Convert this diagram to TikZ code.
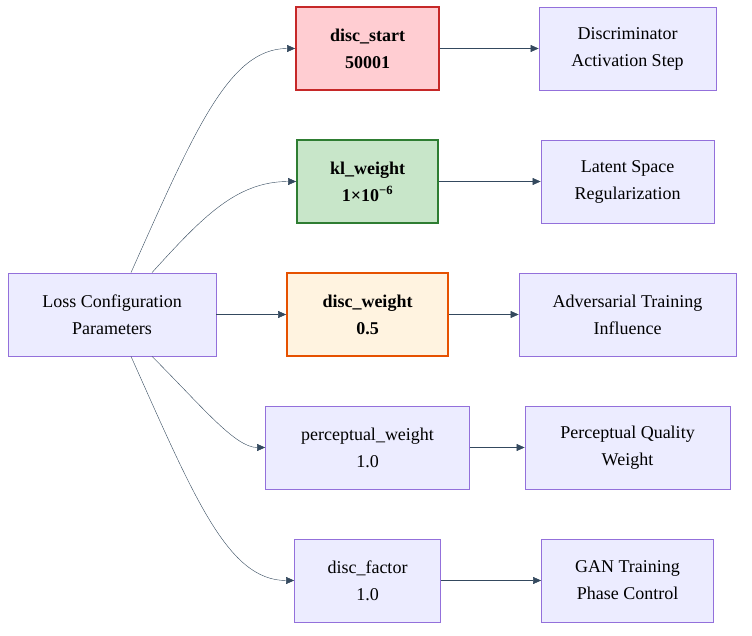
\documentclass[tikz,border=0pt]{standalone}
\usepackage{fontspec}
\setmainfont{Liberation Serif}
\usepackage{xcolor}
\usetikzlibrary{arrows.meta}

\definecolor{boxfill}{HTML}{ECECFF}
\definecolor{boxline}{HTML}{9370DB}
\definecolor{linkcol}{HTML}{34495E}
\definecolor{redfill}{HTML}{FFCDD2}
\definecolor{redline}{HTML}{C62828}
\definecolor{greenfill}{HTML}{C8E6C9}
\definecolor{greenline}{HTML}{2E7D32}
\definecolor{orangefill}{HTML}{FFF3E0}
\definecolor{orangeline}{HTML}{E65100}

\tikzset{
  param/.style={draw=boxline, fill=boxfill, line width=0.8pt, minimum height=83pt,
    align=center, font=\fontsize{18}{27}\selectfont, inner sep=0pt},
  keyparam/.style={param, line width=1.8pt, font=\fontsize{18}{27}\selectfont\bfseries},
}

\begin{document}
\begin{tikzpicture}[x=1pt, y=-1pt, ->, >={Triangle[length=8pt,width=7pt]},
                    draw=linkcol, node distance=133pt]
  \useasboundingbox (0,0) rectangle (752,636);

  \node[param, minimum width=208pt]                        (Loss)      at (112,314.5) {Loss Configuration\\Parameters};
  \node[keyparam, minimum width=161pt, draw=orangeline, fill=orangefill]
                                 (DiscWeight) [right of=Loss, node distance=255.5pt] {disc\_weight\\0.5};
  \node[keyparam, minimum width=141pt, draw=greenline, fill=greenfill]
                                 (KlWeight)   [above of=DiscWeight] {kl\_weight\\1×10\textsuperscript{−6}};
  \node[keyparam, minimum width=143pt, draw=redline, fill=redfill]
                                 (DiscStart)  [above of=KlWeight]   {disc\_start\\50001};
  \node[param, minimum width=204pt] (PercWeight) [below of=DiscWeight] {perceptual\_weight\\1.0};
  \node[param, minimum width=146pt] (DiscFactor) [below of=PercWeight] {disc\_factor\\1.0};

  \node[param, minimum width=177pt] (Activation)  [right of=DiscStart,  node distance=260pt] {Discriminator\\Activation Step};
  \node[param, minimum width=173pt] (Latent)      [right of=KlWeight,   node distance=260pt] {Latent Space\\Regularization};
  \node[param, minimum width=217pt] (Adversarial) [right of=DiscWeight, node distance=260pt] {Adversarial Training\\Influence};
  \node[param, minimum width=205pt] (Quality)     [right of=PercWeight, node distance=260pt] {Perceptual Quality\\Weight};
  \node[param, minimum width=172pt] (Phase)       [right of=DiscFactor, node distance=260pt] {GAN Training\\Phase Control};

  \draw[linkcol] ([xshift=19pt]Loss.north) .. controls +(64,-143) and +(-66,0) .. (DiscStart.west);
  \draw[linkcol] ([xshift=40pt]Loss.north) .. controls +(50,-55) and +(-60,0) .. (KlWeight.west);
  \draw[linkcol] (Loss.east) -- (DiscWeight.west);
  \draw[linkcol] ([xshift=40pt]Loss.south) .. controls +(50,50) and +(-30,0) .. (PercWeight.west);
  \draw[linkcol] ([xshift=19pt]Loss.south) .. controls +(64,143) and +(-66,0) .. (DiscFactor.west);

  \path[linkcol] (DiscStart)  edge (Activation)
                 (KlWeight)   edge (Latent)
                 (DiscWeight) edge (Adversarial)
                 (PercWeight) edge (Quality)
                 (DiscFactor) edge (Phase);
\end{tikzpicture}
\end{document}
